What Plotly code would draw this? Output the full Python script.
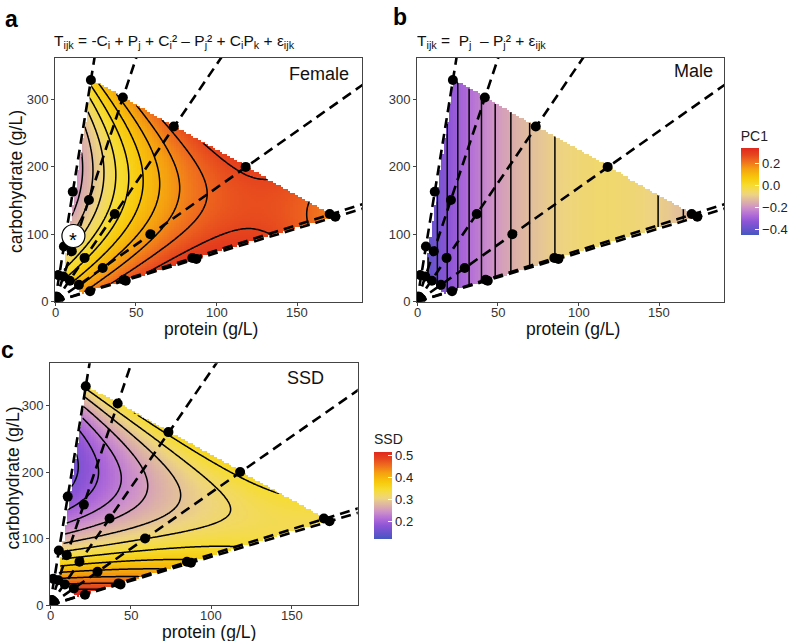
import numpy as np
import plotly.graph_objects as go

# ---------------- data ----------------
DIET_P = [22.2, 11.0, 5.5, 2.0, 42.0, 21.0, 10.4, 5.2, 73.5, 37.0, 18.3, 9.2,
          118.0, 59.0, 29.5, 14.8, 170.0, 85.0, 42.5, 173.5, 87.5, 43.8, 21.7, 1.2, 2.6]
DIET_C = [329, 163, 82, 39.6, 303, 151, 75, 37.3, 260, 130, 65, 31,
          200, 100, 50, 25, 130, 65, 32.5, 126, 63.5, 31, 15.5, 7.5, 4.5]
RAY_SLOPES = [14.8, 7.2, 3.52, 1.69, 0.76, 0.725]

# region covered by the fitted surfaces
HULL_P = [16.5, 173.0, 22.5, 5.0]
HULL_C = [12.5, 127.0, 330.0, 42.0]

# female PC1 readings (contour positions / colours)
FEM_P = [13.6, 23.9, 31.2, 38.4, 45.6, 53.9, 64.2, 75.6, 93.1,
         88, 118, 139, 53, 86, 108, 154, 160, 22, 14, 18]
FEM_C = [166, 166, 166, 166, 166, 166, 166, 166, 166,
         242, 200, 172, 52, 77, 89, 114, 143, 329, 200, 18]
FEM_V = [-0.17, -0.12, -0.07, -0.02, 0.03, 0.08, 0.13, 0.18, 0.23,
         0.28, 0.28, 0.28, 0.28, 0.28, 0.28, 0.23, 0.23, 0.05, -0.19, 0.15]

# male PC1 readings (vertical contour positions)
MALE_P = [7.0, 12.4, 18.6, 25.4, 32.2, 39.8, 48.5, 58.2, 69.8, 85.1, 149.3, 164.8]
MALE_V = [-0.405, -0.37, -0.335, -0.30, -0.265, -0.23, -0.195, -0.16, -0.125, -0.09, -0.09, -0.125]

# SSD readings
SSD_P = [14, 20, 30, 43.5, 58, 74.5, 103.5, 42, 73, 118, 149, 170,
         40, 40, 40, 40, 40, 40, 25, 110, 9, 7.5]
SSD_C = [200, 215, 208, 193, 178, 155, 143, 301, 260, 200, 163, 130,
         93, 78, 65, 52, 42, 33, 20, 84, 140, 112]
SSD_V = [0.15, 0.17, 0.20, 0.23, 0.26, 0.29, 0.32, 0.35, 0.35, 0.35, 0.35, 0.335,
         0.32, 0.35, 0.38, 0.41, 0.44, 0.47, 0.51, 0.35, 0.20, 0.26]

STAR_P = [11.4]
STAR_C = [97.5]

PC1_RANGE = [-0.45, 0.34]
SSD_RANGE = [0.123, 0.518]
PC1_TICKS = [-0.4, -0.2, 0.0, 0.2]
SSD_TICKS = [0.2, 0.3, 0.4, 0.5]
X_TICKS = [0, 50, 100, 150]
Y_TICKS = [0, 100, 200, 300]

CS_POS = [0.0, 0.063, 0.152, 0.228, 0.316, 0.38, 0.425, 0.468, 0.52, 0.57, 0.658, 0.76, 0.848, 0.92, 1.0]
CS_COL = ['#4458bf', '#6454cc', '#8c54d6', '#b06ad8', '#cf92c8', '#dcb0a8', '#e4c298',
          '#eed480', '#f3da58', '#f6dc30', '#f8c80a', '#f5a010', '#ef6c1e', '#e6461e', '#e0281e']
COLORSCALE = [[p, c] for p, c in zip(CS_POS, CS_COL)]

# ---------------- surfaces ----------------
def design(P, C):
    p = np.asarray(P, float) / 100.0
    c = np.asarray(C, float) / 100.0
    return np.stack([np.ones_like(p), p, c, p * p, c * c, p * c], axis=-1)

fem_coef = np.linalg.lstsq(design(FEM_P, FEM_C), np.array(FEM_V), rcond=None)[0]
ssd_coef = np.linalg.lstsq(design(SSD_P, SSD_C), np.array(SSD_V), rcond=None)[0]
male_coef = np.polyfit(np.array(MALE_P) / 100.0, np.array(MALE_V), 2)

def inside(PP, CC):
    ok = np.ones_like(PP, dtype=bool)
    n = len(HULL_P)
    for i in range(n):
        x0, y0 = HULL_P[i], HULL_C[i]
        x1, y1 = HULL_P[(i + 1) % n], HULL_C[(i + 1) % n]
        cross = (x1 - x0) * (CC - y0) - (y1 - y0) * (PP - x0)
        ok &= cross >= 0
    return ok

def surfaces(step_p, step_c):
    pg = np.arange(step_p / 2, 190, step_p)
    cg = np.arange(step_c / 2, 362, step_c)
    PP, CC = np.meshgrid(pg, cg)
    m = inside(PP, CC)
    D = design(PP, CC)
    F = D @ fem_coef
    S = D @ ssd_coef
    M = np.polyval(male_coef, PP / 100.0)
    F = np.where(m, F, np.nan)
    S = np.where(m, S, np.nan)
    M = np.where(m, M, np.nan)
    return pg, cg, F, M, S

hp, hc, HF, HM, HS = surfaces(1.5, 3.0)
cp, cc, CF, CM, CS = surfaces(1.0, 2.0)

# ---------------- figure ----------------
W, H = 790, 641
def dx(a, b):
    return [a / W, b / W]
def dy(top, bottom):
    return [1 - bottom / H, 1 - top / H]

fig = go.Figure()

def cbar(title, ticks, x_px, bottom_px, length):
    return dict(
        title=dict(text=title, side='top', font=dict(size=14, color='#222')),
        x=x_px / W, xanchor='left',
        y=1 - (bottom_px + 2) / H, yanchor='bottom', ypad=2, xpad=0,
        len=length, lenmode='pixels', thickness=18, thicknessmode='pixels',
        tickvals=ticks, tickformat='.1f', ticks='inside', ticklen=4,
        tickcolor='white', outlinewidth=0, tickfont=dict(size=13, color='#222'))

panels = [
    ('x', 'y', HF, CF, PC1_RANGE, dict(start=-0.17, end=0.2801, size=0.05), None),
    ('x2', 'y2', HM, CM, PC1_RANGE, dict(start=-0.405, end=-0.0899, size=0.035), 'PC1'),
    ('x3', 'y3', HS, CS, SSD_RANGE, dict(start=0.17, end=0.5001, size=0.03), 'SSD'),
]

for xa, ya, Zh, Zc, zr, lev, cbname in panels:
    hm = dict(x=hp, y=hc, z=Zh, colorscale=COLORSCALE, zmin=zr[0], zmax=zr[1],
              zsmooth=False, xaxis=xa, yaxis=ya, hoverinfo='skip')
    if cbname == 'PC1':
        hm['colorbar'] = cbar('PC1', PC1_TICKS, 740.7, 235.0, 112)
        hm['showscale'] = True
    elif cbname == 'SSD':
        hm['colorbar'] = cbar('SSD', SSD_TICKS, 374.0, 538.7, 112)
        hm['showscale'] = True
    else:
        hm['showscale'] = False
    fig.add_trace(go.Heatmap(**hm))

    fig.add_trace(go.Contour(x=cp, y=cc, z=Zc, contours=dict(coloring='none', **lev),
                             line=dict(color='black', width=1.5), showscale=False,
                             connectgaps=False, xaxis=xa, yaxis=ya, hoverinfo='skip'))

    rx, ry = [], []
    for s in RAY_SLOPES:
        pend = min(200.0, 380.0 / s)
        rx += [0, pend, None]
        ry += [0, s * pend, None]
    fig.add_trace(go.Scatter(x=rx, y=ry, mode='lines',
                             line=dict(color='black', width=2.6, dash='10px,6px'),
                             xaxis=xa, yaxis=ya, hoverinfo='skip', showlegend=False))
    fig.add_trace(go.Scatter(x=DIET_P, y=DIET_C, mode='markers',
                             marker=dict(size=10, color='black'),
                             xaxis=xa, yaxis=ya, hoverinfo='skip', showlegend=False))

fig.add_trace(go.Scatter(x=STAR_P, y=STAR_C, mode='markers',
                         marker=dict(size=23, color='white', line=dict(color='black', width=1.2)),
                         xaxis='x', yaxis='y', hoverinfo='skip', showlegend=False))

axbase = dict(showgrid=False, zeroline=False, showline=True, mirror=True,
              linecolor='#444', linewidth=1, ticks='outside', ticklen=3, tickwidth=1,
              tickcolor='#444', tickfont=dict(size=13, color='#333'), fixedrange=True)

fig.update_layout(
    width=W, height=H, margin=dict(l=0, r=0, t=0, b=0, pad=0, autoexpand=False),
    paper_bgcolor='white', plot_bgcolor='white', showlegend=False,
    font=dict(family='Liberation Sans, Arial, sans-serif', color='#111'),
    xaxis=dict(axbase, domain=dx(55, 362), range=[0, 190], tickvals=X_TICKS, anchor='y', showticklabels=False),
    yaxis=dict(axbase, domain=dy(57.7, 301.7), range=[0, 362], tickvals=Y_TICKS, anchor='x'),
    xaxis2=dict(axbase, domain=dx(417, 724), range=[0, 190], tickvals=X_TICKS, anchor='y2', showticklabels=False),
    yaxis2=dict(axbase, domain=dy(57.7, 301.7), range=[0, 362], tickvals=Y_TICKS, anchor='x2'),
    xaxis3=dict(axbase, domain=dx(50, 357.7), range=[0, 191], tickvals=X_TICKS, anchor='y3', showticklabels=False),
    yaxis3=dict(axbase, domain=dy(363.3, 605), range=[0, 363.5], tickvals=Y_TICKS, anchor='x3'),
)

def pann(text, x, y, size, xanchor='left', bold=False, angle=0, color='#111', width=None):
    d = dict(text=('<b>%s</b>' % text) if bold else text, x=x / W, y=1 - y / H,
             xref='paper', yref='paper', xanchor=xanchor, yanchor='middle',
             showarrow=False, textangle=angle, font=dict(size=size, color=color),
             borderpad=0)
    if width is not None:
        d['width'] = width
        d['align'] = xanchor if xanchor in ('left', 'right') else 'center'
    return d

ann = [
    pann('a', 4, 19.5, 23, bold=True, color='black', width=30),
    pann('b', 392, 17.5, 23, bold=True, color='black', width=30),
    pann('c', 0, 350, 23, bold=True, color='black', width=30),
    pann('T<sub>ijk</sub> = -C<sub>i</sub> + P<sub>j</sub> + C<sub>i</sub>\u00b2 \u2013 P<sub>j</sub>\u00b2 + C<sub>i</sub>P<sub>k</sub> + \u03b5<sub>ijk</sub>',
         53, 41, 15.5, width=300),
    pann('T<sub>ijk</sub> =  P<sub>j</sub>  \u2013 P<sub>j</sub>\u00b2 + \u03b5<sub>ijk</sub>', 416, 41, 15.5, width=200),
    pann('Female', 350, 73.5, 18, xanchor='right', width=120),
    pann('Male', 714, 71, 18, xanchor='right', width=120),
    pann('SSD', 325, 377.5, 18, xanchor='right', width=120),
    pann('carbohydrate (g/L)', 16, 182, 17.5, xanchor='center', angle=-90),
    pann('carbohydrate (g/L)', 12.5, 478, 17.5, xanchor='center', angle=-90),
    pann('protein (g/L)', 211, 329, 17.5, xanchor='center'),
    pann('protein (g/L)', 573, 329, 17.5, xanchor='center'),
    pann('protein (g/L)', 209, 632, 17.5, xanchor='center'),
    dict(text='*', x=STAR_P[0], y=STAR_C[0], xref='x', yref='y', showarrow=False,
         yshift=-4, font=dict(size=20, color='black')),
]
# x tick labels placed just under each panel
for xr, ypx in [('x', 312), ('x2', 312), ('x3', 615.5)]:
    for t in X_TICKS:
        ann.append(dict(text=str(t), x=t, xref=xr, y=1 - ypx / H, yref='paper',
                        xanchor='center', yanchor='middle', showarrow=False,
                        font=dict(size=13, color='#333')))
fig.update_layout(annotations=ann)

fig.write_html('out.html', config={'displayModeBar': False},
               post_script="document.body.style.margin='0px';")
